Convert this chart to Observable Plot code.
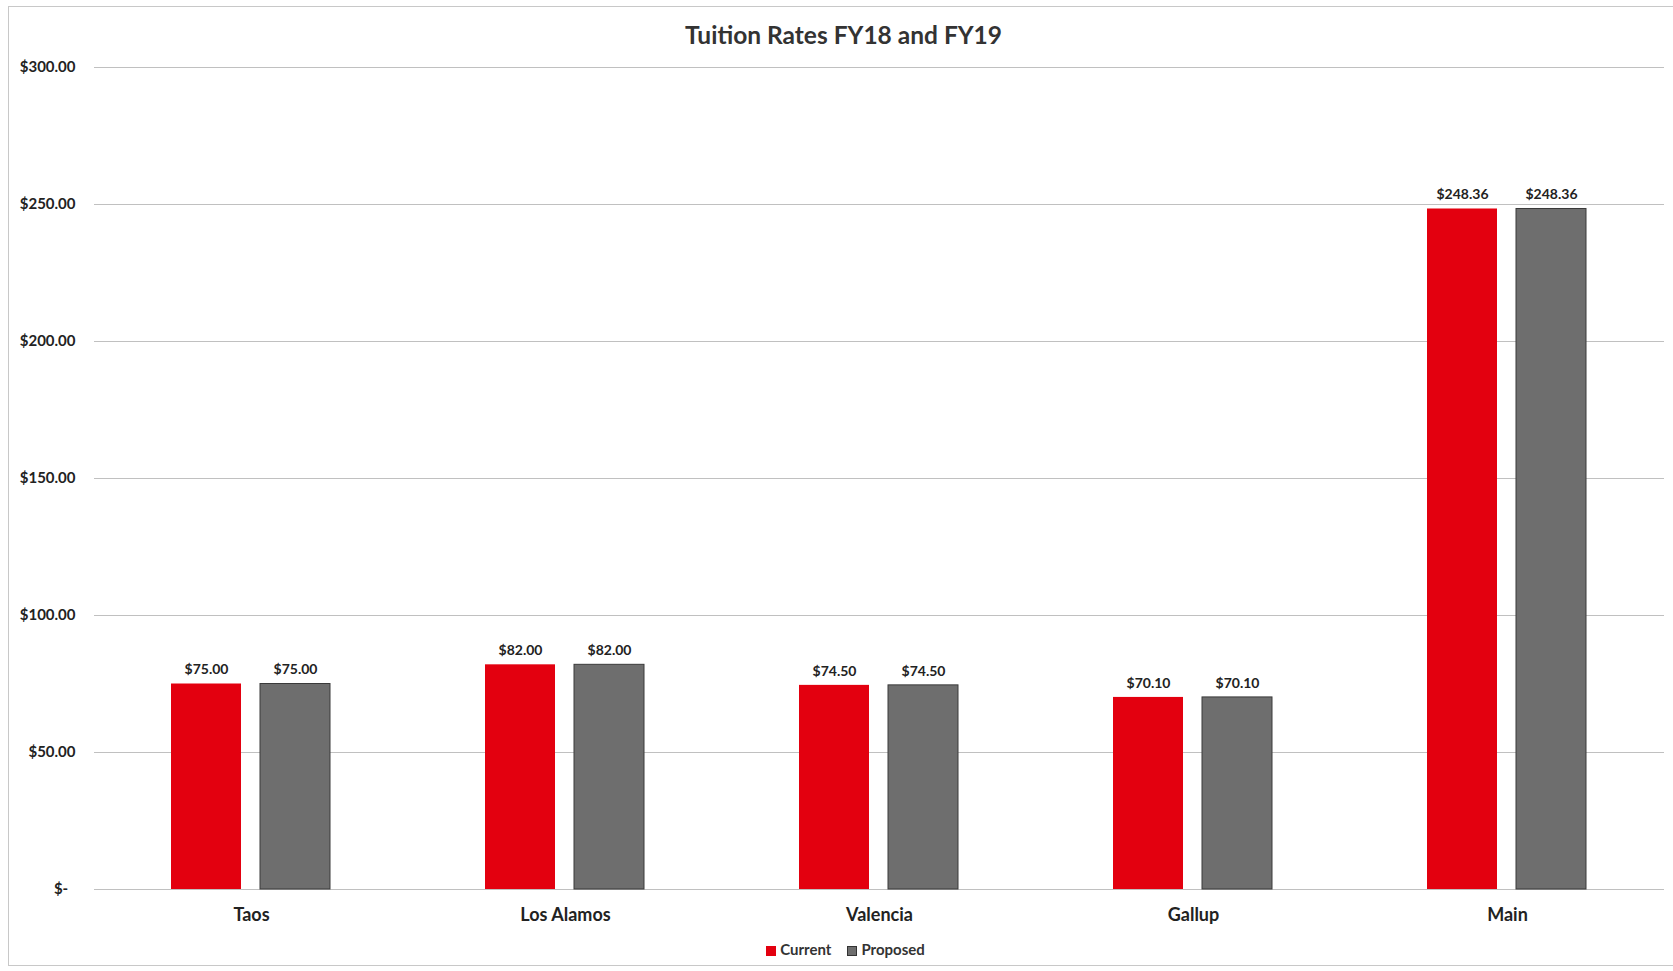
<!DOCTYPE html>
<html>
<head>
<meta charset="utf-8">
<script src="https://cdn.jsdelivr.net/npm/d3@7"></script>
<script src="https://cdn.jsdelivr.net/npm/@observablehq/plot@0.6"></script>
<style>
  body { margin: 0; background: #fff; font-family: Lato, "Open Sans", sans-serif; overflow: hidden; }
  #wrap { position: relative; width: 1673px; height: 971px; }
  #frame { position: absolute; left: 8px; top: 6px; width: 1700px; height: 960px; border: 1px solid #c8c8c8; box-sizing: border-box; pointer-events: none; }
  #title { height: 50px; padding-top: 22px; line-height: 26px; text-align: center; font-weight: 700; font-size: 24.5px; color: #333; padding-left: 14px; box-sizing: border-box; }
  #legend { position: absolute; top: 940px; left: 0; width: 1673px; text-align: center; font-size: 15px; font-weight: 700; color: #333; padding-left: 18px; box-sizing: border-box; }
  #legend span.sw { display: inline-block; width: 10px; height: 10px; vertical-align: -1px; margin-right: 4px; }
  #legend span.item { margin: 0 8px; }
</style>
</head>
<body>
<div id="wrap">
  <div id="frame"></div>
  <div id="title">Tuition Rates FY18 and FY19</div>
  <div id="chart"></div>
  <div id="legend"></div>
</div>
<script>
const campuses = ["Taos", "Los Alamos", "Valencia", "Gallup", "Main"];
const series = ["Current", "Proposed"];
const currentValues = [75.00, 82.00, 74.50, 70.10, 248.36];
const proposedValues = [75.00, 82.00, 74.50, 70.10, 248.36];
const yTicks = [0, 50, 100, 150, 200, 250, 300];
const seriesColors = ["#e3000f", "#6e6e6e"];
const seriesStrokes = ["none", "#3a3a3a"];

const data = [];
campuses.forEach((c, i) => {
  data.push({campus: c, series: "Current", value: currentValues[i]});
  data.push({campus: c, series: "Proposed", value: proposedValues[i]});
});

const money = v => v === 0 ? "$-\u00a0\u00a0" : "$" + d3.format(",.2f")(v);

const chart = Plot.plot({
  width: 1673,
  height: 890,
  marginTop: 17,
  marginBottom: 51,
  marginLeft: 94,
  marginRight: 9,
  style: {fontFamily: "Lato, 'Open Sans', sans-serif", color: "#222", background: "transparent"},
  fx: {domain: campuses, padding: 0, label: null},
  x: {domain: series, paddingInner: 0.211, paddingOuter: 0.85, axis: null},
  y: {domain: [0, 300], ticks: yTicks, label: null},
  color: {domain: series, range: seriesColors},
  marks: [
    Plot.gridY(yTicks, {stroke: "#c0c0c0", strokeOpacity: 1, strokeWidth: 1}),
    Plot.axisY(yTicks, {tickSize: 0, tickPadding: 19, fontSize: 15, fontWeight: "bold", tickFormat: money, label: null}),
    Plot.axisFx({anchor: "bottom", tickSize: 0, tickPadding: 19, fontSize: 18, fontWeight: "bold", label: null}),
    Plot.barY(data, {fx: "campus", x: "series", y: "value", fill: "series", stroke: d => seriesStrokes[series.indexOf(d.series)], strokeWidth: 1}),
    Plot.text(data, {fx: "campus", x: "series", y: "value", text: d => money(d.value), dy: -14, fontSize: 14, fontWeight: "bold", fill: "#222"})
  ]
});
document.getElementById("chart").appendChild(chart);

const legend = document.getElementById("legend");
series.forEach((s, i) => {
  const item = document.createElement("span");
  item.className = "item";
  item.innerHTML = `<span class="sw" style="background:${seriesColors[i]};${i ? "border:1px solid #333;box-sizing:border-box;" : ""}"></span>${s}`;
  legend.appendChild(item);
});
</script>
</body>
</html>
